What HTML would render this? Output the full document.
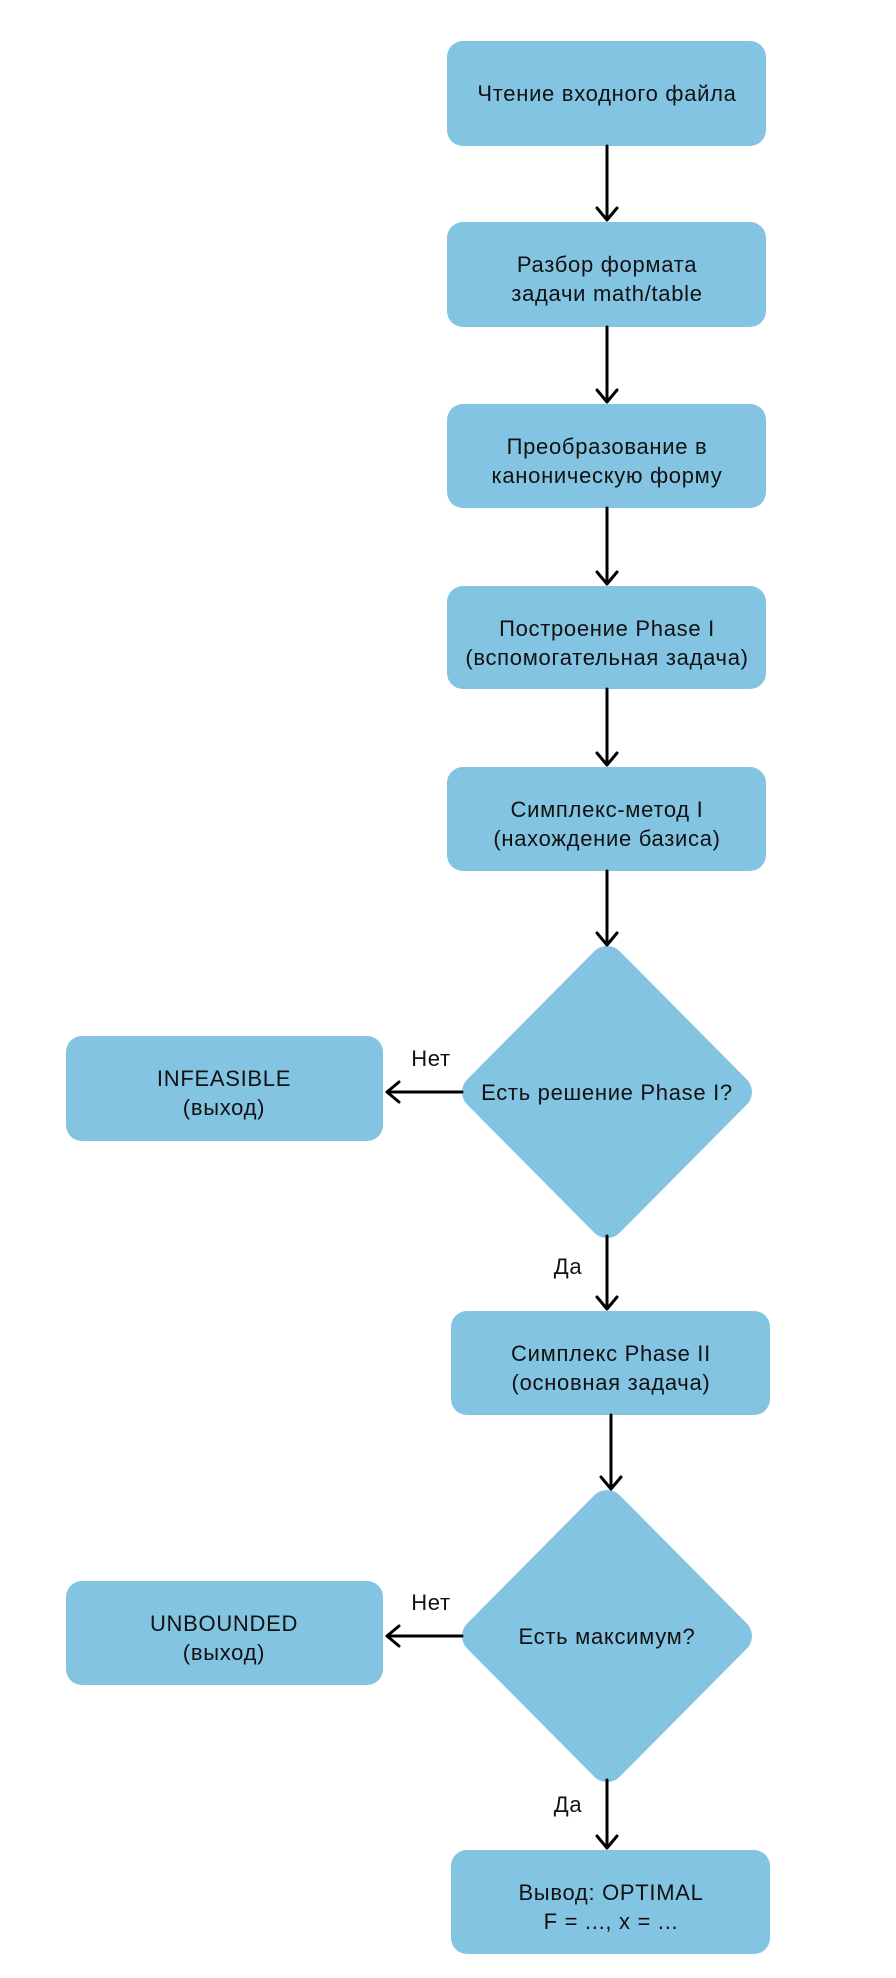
<!DOCTYPE html>
<html><head><meta charset="utf-8"><style>
html,body{margin:0;padding:0;background:#fff;}
svg text{font-family:"Liberation Sans",sans-serif;font-size:22px;letter-spacing:0.7px;fill:#111;}
</style></head><body>
<svg width="896" height="1973" viewBox="0 0 896 1973" xmlns="http://www.w3.org/2000/svg">
<g fill="#84C4E3">
<rect x="447" y="41" width="319" height="105" rx="16"/>
<rect x="447" y="222" width="319" height="105" rx="16"/>
<rect x="447" y="404" width="319" height="104" rx="16"/>
<rect x="447" y="586" width="319" height="103" rx="16"/>
<rect x="447" y="767" width="319" height="104" rx="16"/>
<rect x="66" y="1036" width="317" height="105" rx="16"/>
<rect x="451" y="1311" width="319" height="104" rx="16"/>
<rect x="66" y="1581" width="317" height="104" rx="16"/>
<rect x="451" y="1850" width="319" height="104" rx="16"/>
<polygon points="607,964 734,1092 607,1220 480,1092" stroke="#84C4E3" stroke-width="36" stroke-linejoin="round"/>
<polygon points="607,1508 734,1636 607,1764 480,1636" stroke="#84C4E3" stroke-width="36" stroke-linejoin="round"/>
</g>
<g stroke="#000" stroke-width="3" fill="none" stroke-linecap="round" stroke-linejoin="round">
<path d="M607 146V220M597 208L607 220L617 208"/>
<path d="M607 327V402M597 390L607 402L617 390"/>
<path d="M607 508V584M597 572L607 584L617 572"/>
<path d="M607 689V765M597 753L607 765L617 753"/>
<path d="M607 871V945M597 933L607 945L617 933"/>
<path d="M607 1236V1309M597 1297L607 1309L617 1297"/>
<path d="M611 1415V1489M601 1477L611 1489L621 1477"/>
<path d="M607 1780V1848M597 1836L607 1848L617 1836"/>
<path d="M462 1092H387M399 1082L387 1092L399 1102"/>
<path d="M462 1636H387M399 1626L387 1636L399 1646"/>
</g>
<g text-anchor="middle">
<text x="607" y="101">Чтение входного файла</text>
<text x="607" y="272">Разбор формата</text>
<text x="607" y="301">задачи math/table</text>
<text x="607" y="454">Преобразование в</text>
<text x="607" y="483">каноническую форму</text>
<text x="607" y="636">Построение Phase I</text>
<text x="607" y="665">(вспомогательная задача)</text>
<text x="607" y="817">Симплекс-метод I</text>
<text x="607" y="846">(нахождение базиса)</text>
<text x="607" y="1100">Есть решение Phase I?</text>
<text x="224" y="1086">INFEASIBLE</text>
<text x="224" y="1115">(выход)</text>
<text x="611" y="1361">Симплекс Phase II</text>
<text x="611" y="1390">(основная задача)</text>
<text x="607" y="1644">Есть максимум?</text>
<text x="224" y="1631">UNBOUNDED</text>
<text x="224" y="1660">(выход)</text>
<text x="611" y="1900">Вывод: OPTIMAL</text>
<text x="611" y="1929">F = ..., x = ...</text>
<text x="431" y="1066">Нет</text>
<text x="431" y="1610">Нет</text>
<text x="568" y="1274">Да</text>
<text x="568" y="1812">Да</text>
</g>
</svg>
</body></html>
